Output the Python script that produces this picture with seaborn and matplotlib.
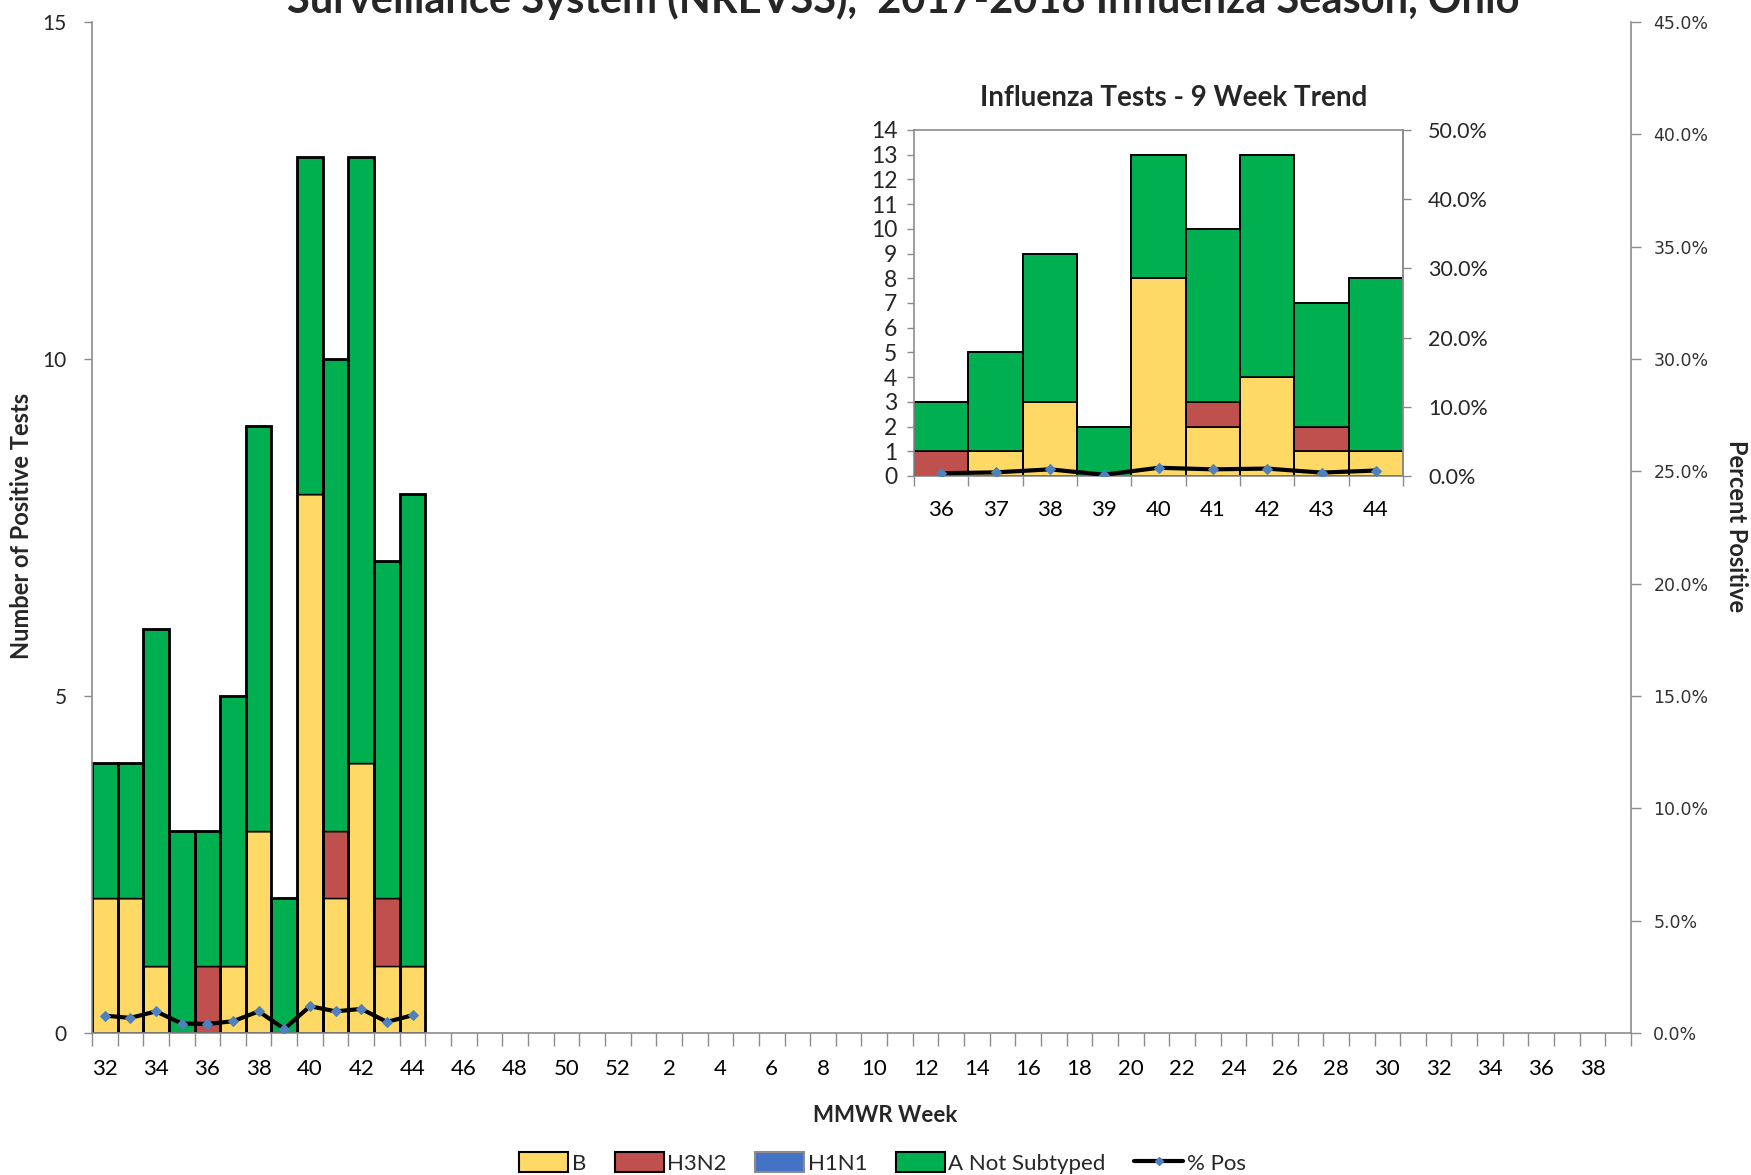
import matplotlib
matplotlib.use("Agg")
import matplotlib.pyplot as plt
import matplotlib.ticker as mticker
from matplotlib.patches import Patch
from matplotlib.lines import Line2D
import numpy as np
import seaborn as sns

# MMWR weeks on the season axis (week 32 of 2017 through week 39 of 2018)
weeks = list(range(32, 53)) + list(range(1, 40))

# counts reported so far
reported_weeks = [32, 33, 34, 35, 36, 37, 38, 39, 40, 41, 42, 43, 44]
b_counts = [2, 2, 1, 0, 0, 1, 3, 0, 8, 2, 4, 1, 1]
h3n2_counts = [0, 0, 0, 0, 1, 0, 0, 0, 0, 1, 0, 1, 0]
h1n1_counts = [0, 0, 0, 0, 0, 0, 0, 0, 0, 0, 0, 0, 0]
a_counts = [2, 2, 5, 3, 2, 4, 6, 2, 5, 7, 9, 5, 7]
pct_pos = [0.77, 0.67, 0.96, 0.42, 0.40, 0.52, 0.96, 0.18, 1.19, 0.96, 1.07, 0.49, 0.79]

series_names = ["B", "H3N2", "H1N1", "A Not Subtyped"]
series_colors = ["#FFD966", "#C0504D", "#4472C4", "#00B050"]
marker_color = "#4F81BD"
axis_gray = "#8C8C8C"

FONT = ["Lato", "DejaVu Sans"]


def draw_stack(ax, x, counts, width, seg_lw, outline_lw):
	# stacked bars, one call per virus type
	bottom = np.zeros(len(x))
	for vals, color in zip(counts, series_colors):
		vals = np.asarray(vals, dtype=float)
		ax.bar(x, vals, width, bottom=bottom, color=color, edgecolor="black", linewidth=seg_lw, align="center")
		bottom += vals
	ax.bar(x, bottom, width, fill=False, edgecolor="black", linewidth=outline_lw, align="center")


def style_spines(ax, visible):
	for side, sp in ax.spines.items():
		sp.set_visible(side in visible)
		sp.set_color(axis_gray)
		sp.set_linewidth(1.2)


sns.set_theme(style="white")
plt.rcParams["font.family"] = FONT

fig = plt.figure(figsize=(17.51, 11.75), dpi=100)

# ---------- main season chart ----------
ax = fig.add_axes([0.0525, 0.1209, 0.879, 0.8604])
ax2 = ax.twinx()

pos = np.array([weeks.index(w) for w in reported_weeks])
counts = [b_counts, h3n2_counts, h1n1_counts, a_counts]
draw_stack(ax, pos, counts, 1.0, 1.0, 2.0)

ax.set_xlim(-0.5, len(weeks) - 0.5)
ax.set_ylim(0, 15)
ax.set_yticks([0, 5, 10, 15])
ax.set_xticks(np.arange(0, len(weeks), 2))
ax.set_xticklabels([str(weeks[i]) for i in range(0, len(weeks), 2)])
ax.set_xticks(np.arange(-0.5, len(weeks), 1), minor=True)
ax.tick_params(axis="x", which="major", length=0, pad=19, labelsize=16, colors="black")
ax.tick_params(axis="x", which="minor", length=9, width=1, color=axis_gray, direction="out", bottom=True)
ax.tick_params(axis="y", length=6, width=1, color=axis_gray, direction="out", left=True, labelsize=15, pad=12)
style_spines(ax, ["left", "bottom"])

sns.lineplot(x=pos, y=pct_pos, ax=ax2, color="black", linewidth=3, marker="D", markersize=5,
	markerfacecolor=marker_color, markeredgecolor=marker_color, legend=False)
ax2.set_ylim(0, 45)
ax2.set_yticks(np.arange(0, 46, 5))
ax2.yaxis.set_major_formatter(mticker.FuncFormatter(lambda v, p: "%.1f%%" % v))
ax2.tick_params(axis="y", length=7, width=1, color=axis_gray, direction="out", right=True, labelsize=12.5, pad=9)
for lab in ax2.get_yticklabels():
	lab.set_family("DejaVu Sans")
	lab.set_color("#333333")
ax2.set_ylabel("")
style_spines(ax2, ["right"])

fig.text(0.5157, 1 - 13 / 1175, "Surveillance System (NREVSS),  2017-2018 Influenza Season, Ohio",
	ha="center", va="baseline", fontsize=30, fontweight="bold")
fig.text(0.0125, 0.552, "Number of Positive Tests", rotation=90, ha="center", va="center", fontsize=17, fontweight="bold")
fig.text(0.992, 0.552, "Percent Positive", rotation=-90, ha="center", va="center", fontsize=17, fontweight="bold")
fig.text(0.5053, 1 - 1115 / 1175, "MMWR Week", ha="center", va="center", fontsize=16, fontweight="bold")

# ---------- 9 week inset ----------
trend_weeks = reported_weeks[-9:]
axi = fig.add_axes([0.522, 0.5949, 0.2793, 0.2945])
axi.set_facecolor("white")
xi = np.arange(len(trend_weeks))
draw_stack(axi, xi, [c[-9:] for c in counts], 1.0, 1.2, 1.2)
axi.set_xlim(-0.5, len(trend_weeks) - 0.5)
axi.set_ylim(0, 14)
axi.set_yticks(np.arange(0, 15, 1))
axi.set_xticks(xi)
axi.set_xticklabels([str(w) for w in trend_weeks])
axi.set_xticks(np.arange(-0.5, len(trend_weeks), 1), minor=True)
axi.tick_params(axis="x", which="major", length=0, pad=17, labelsize=16, colors="black")
axi.tick_params(axis="x", which="minor", length=7, width=1, color=axis_gray, direction="out", bottom=True)
axi.tick_params(axis="y", length=5, width=1, color=axis_gray, direction="out", left=True, labelsize=16.5, pad=7)
style_spines(axi, ["left", "bottom", "top", "right"])

axi2 = axi.twinx()
sns.lineplot(x=xi, y=pct_pos[-9:], ax=axi2, color="black", linewidth=3, marker="D", markersize=5,
	markerfacecolor=marker_color, markeredgecolor=marker_color, legend=False)
axi2.set_ylim(0, 50)
axi2.set_yticks(np.arange(0, 51, 10))
axi2.yaxis.set_major_formatter(mticker.FuncFormatter(lambda v, p: "%.1f%%" % v))
axi2.tick_params(axis="y", length=6, width=1, color=axis_gray, direction="out", right=True, labelsize=15.5, pad=12)
axi2.set_ylabel("")
style_spines(axi2, ["right"])
fig.text(0.6705, 1 - 98 / 1175, "Influenza Tests - 9 Week Trend", ha="center", va="center", fontsize=20, fontweight="bold")

# ---------- legend ----------
handles = []
for name, color in zip(series_names, series_colors):
	edge = "#8C8C8C" if name == "H1N1" else "black"
	handles.append(Patch(facecolor=color, edgecolor=edge, linewidth=1.5, label=name))
handles.append(Line2D([0], [0], color="black", linewidth=3, marker="D", markersize=4,
	markerfacecolor=marker_color, markeredgecolor=marker_color, label="% Pos"))
fig.legend(handles=handles, loc="center", bbox_to_anchor=(0.504, 1 - 1163 / 1175), ncol=5, frameon=False,
	fontsize=16, handlelength=2.2, handleheight=1.0, handletextpad=0.15, columnspacing=1.3)

fig.savefig("out.png", dpi=100)
